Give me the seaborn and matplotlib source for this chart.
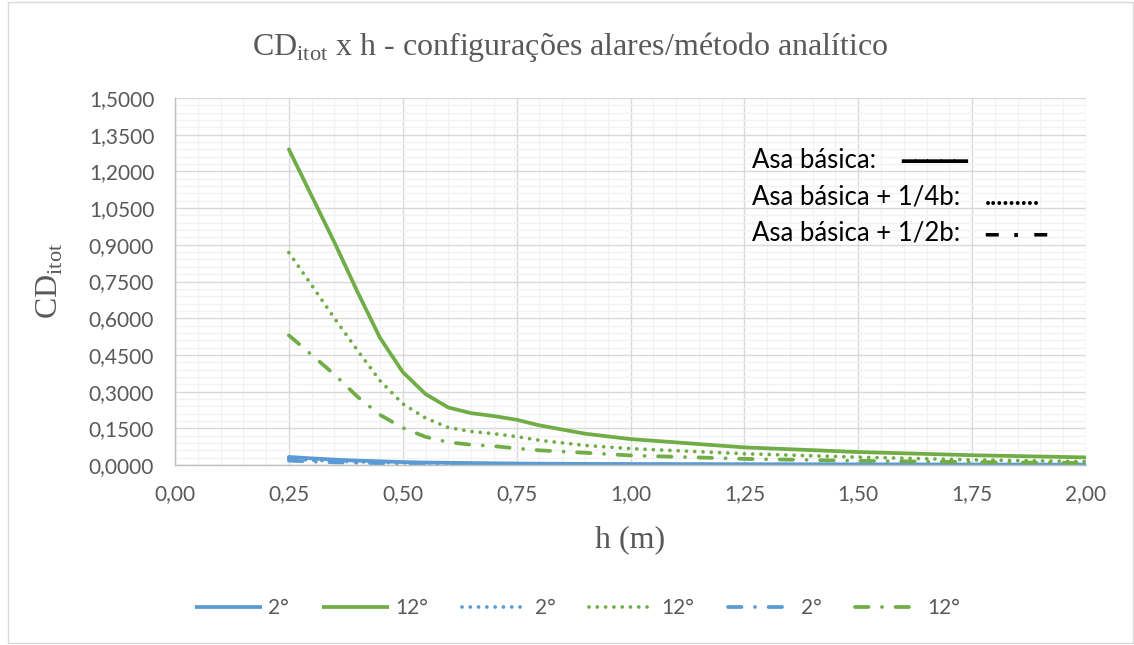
import matplotlib
matplotlib.use("Agg")
import matplotlib.pyplot as plt
import seaborn as sns
import numpy as np
import pandas as pd
from matplotlib.ticker import MultipleLocator, FuncFormatter
from matplotlib.lines import Line2D
from matplotlib.patches import Rectangle

# ---- data ----
h = [0.25, 0.30, 0.35, 0.40, 0.45, 0.50, 0.55, 0.60, 0.65, 0.70, 0.75, 0.80,
     0.90, 1.00, 1.25, 1.50, 1.75, 2.00]
basica_2 = [0.033, 0.027, 0.022, 0.018, 0.015, 0.012, 0.010, 0.009, 0.008, 0.007,
            0.006, 0.0055, 0.0045, 0.004, 0.003, 0.0025, 0.002, 0.0015]
basica_12 = [1.29, 1.10, 0.91, 0.71, 0.52, 0.38, 0.29, 0.235, 0.212, 0.200,
             0.185, 0.162, 0.128, 0.106, 0.072, 0.053, 0.040, 0.031]
quarto_2 = [0.025, 0.020, 0.016, 0.013, 0.011, 0.009, 0.0075, 0.0065, 0.006, 0.0055,
            0.005, 0.0045, 0.0035, 0.003, 0.0025, 0.002, 0.0015, 0.001]
quarto_12 = [0.868, 0.735, 0.60, 0.47, 0.345, 0.25, 0.192, 0.153, 0.137, 0.128,
             0.116, 0.101, 0.080, 0.067, 0.046, 0.032, 0.021, 0.014]
meio_2 = [0.018, 0.014, 0.011, 0.009, 0.0075, 0.0065, 0.0055, 0.005, 0.0045, 0.004,
          0.0035, 0.003, 0.0025, 0.002, 0.0015, 0.0012, 0.001, 0.0008]
meio_12 = [0.53, 0.45, 0.37, 0.28, 0.205, 0.152, 0.115, 0.093, 0.083, 0.077,
           0.068, 0.060, 0.050, 0.039, 0.025, 0.017, 0.012, 0.008]
legend_labels = ["2°", "12°", "2°", "12°", "2°", "12°"]

BLUE = "#5B9BD5"
GREEN = "#70AD47"
GRAY = "#595959"

sns.set_theme(style="white")
plt.rcParams["font.family"] = ["Lato", "DejaVu Sans"]

fig = plt.figure(figsize=(11.34, 6.45), dpi=100)
ax = fig.add_axes([175/1134, 1-465/645, (1086-175)/1134, (465-98)/645])

LW = 2.7
solid = "-"
dotted = (0, (0.01, 2.2))
dashdot = (0, (3.6, 3.6, 0.01, 3.6))

series = [
    (basica_2, BLUE, solid), (basica_12, GREEN, solid),
    (quarto_2, BLUE, dotted), (quarto_12, GREEN, dotted),
    (meio_2, BLUE, dashdot), (meio_12, GREEN, dashdot),
]
handles = []
for (vals, col, ls), lab in zip(series, legend_labels):
    df = pd.DataFrame({"h": h, "cd": vals})
    sns.lineplot(data=df, x="h", y="cd", ax=ax, color=col, lw=LW, linestyle=ls,
                 dash_capstyle="round", solid_capstyle="round", solid_joinstyle="round")
    handles.append(Line2D([], [], color=col, lw=LW, linestyle=ls,
                          dash_capstyle="round", solid_capstyle="butt", label=lab))

ax.set_xlim(0, 2.0)
ax.set_ylim(0, 1.5)
ax.xaxis.set_major_locator(MultipleLocator(0.25))
ax.xaxis.set_minor_locator(MultipleLocator(0.05))
ax.yaxis.set_major_locator(MultipleLocator(0.15))
ax.yaxis.set_minor_locator(MultipleLocator(0.03))
ax.xaxis.set_major_formatter(FuncFormatter(lambda v, p: f"{v:.2f}".replace(".", ",")))
ax.yaxis.set_major_formatter(FuncFormatter(lambda v, p: f"{v:.4f}".replace(".", ",")))
ax.grid(which="minor", color="#f2f2f2", lw=1.0)
ax.grid(which="major", color="#d9d9d9", lw=1.0)
ax.set_axisbelow(True)
ax.tick_params(which="both", length=0, labelsize=15, labelcolor=GRAY)
ax.tick_params(axis="x", pad=14)
ax.tick_params(axis="y", pad=15)
for s in ["top", "right"]:
    ax.spines[s].set_visible(False)
for s in ["left", "bottom"]:
    ax.spines[s].set_color("#bfbfbf")
    ax.spines[s].set_linewidth(1.0)
ax.set_xlabel("")
ax.set_ylabel("")

# inner text legend
tx = 0.633
rows = [(0.831, "Asa básica:", 0.797, 0.822, "━━━━━", "DejaVu Sans", 16),
        (0.730, "Asa básica + 1/4b:", 0.889, 0.730, ".........", "Lato", 18.5),
        (0.632, "Asa básica + 1/2b:", 0.889, 0.625, "━  ·  ━", "DejaVu Sans", 15)]
for yy, lab, sx, sy, sample, fam, fs in rows:
    ax.text(tx, yy, lab, transform=ax.transAxes, fontsize=18.5, color="black",
            va="center", ha="left")
    ax.text(sx, sy, sample, transform=ax.transAxes, fontsize=fs, color="black",
            va="center", ha="left", fontweight="bold", family=fam)

# titles
fig.text(570/1134, 1-47/645, r"CD$_{\mathregular{itot}}$ x h - configurações alares/método analítico",
         ha="center", va="center", fontsize=23, color=GRAY, family="Liberation Serif")
fig.text(630/1134, 1-540/645, "h (m)", ha="center", va="center", fontsize=23,
         color=GRAY, family="Liberation Serif")
fig.text(50/1134, 1-281/645, r"CD$_{\mathregular{itot}}$", ha="center", va="center",
         fontsize=23, color=GRAY, family="Liberation Serif", rotation=90)

fig.legend(handles=handles, loc="center", bbox_to_anchor=(578/1134, 1-608/645),
           ncol=6, frameon=False, fontsize=15, labelcolor=GRAY,
           handlelength=3.2, columnspacing=1.6, handletextpad=0.3)

fig.patches.append(Rectangle((8/1134, 2/645), 1-9/1134, 1-4/645, transform=fig.transFigure,
                             fill=False, edgecolor="#d9d9d9", lw=1.0))

fig.savefig("out.png", dpi=100)
